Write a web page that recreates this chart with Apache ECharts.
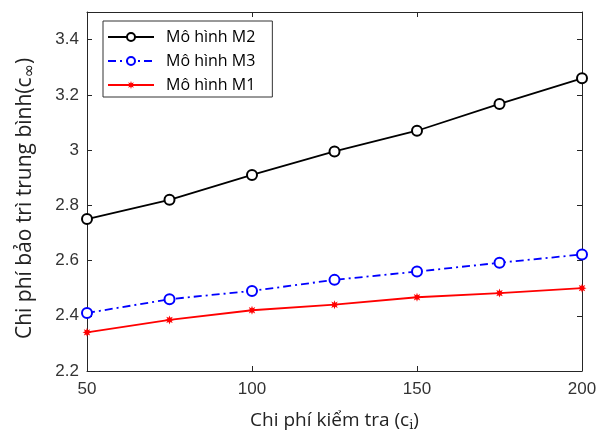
<!DOCTYPE html>
<html>
<head>
<meta charset="utf-8">
<script src="https://cdn.jsdelivr.net/npm/echarts@6/dist/echarts.min.js"></script>
<style>
  html, body { margin: 0; padding: 0; background: #fff; }
  #chart { width: 611px; height: 437px; }
</style>
</head>
<body>
<div id="chart"></div>
<script>
const xValues = [50, 75, 100, 125, 150, 175, 200]
const m2Values = [2.75, 2.82, 2.91, 2.995, 3.07, 3.167, 3.26]
const m3Values = [2.41, 2.46, 2.49, 2.53, 2.56, 2.592, 2.622]
const m1Values = [2.34, 2.385, 2.42, 2.44, 2.467, 2.482, 2.5]
const seriesNames = ['Mô hình M2', 'Mô hình M3', 'Mô hình M1']

const pairs = (vals) => xValues.map((x, i) => [x, vals[i]])

// dấu sao cho M1
const starPath = 'path://M20,10 L14.6,11.9 L17.1,17.1 L11.9,14.6 L10,20 L8.1,14.6 L2.9,17.1 L5.4,11.9 L0,10 L5.4,8.1 L2.9,2.9 L8.1,5.4 L10,0 L11.9,5.4 L17.1,2.9 L14.6,8.1 Z'

const chart = echarts.init(document.getElementById('chart'))
const axisColor = '#262626'
const tickFont = 'Liberation Sans, Arial, sans-serif'
const titleFont = 'Open Sans, sans-serif'

const option = {
  animation: false,
  grid: { left: 87, right: 29, top: 12, bottom: 64 },
  legend: {
    orient: 'vertical',
    left: 103,
    top: 21,
    padding: [8, 17, 4, 4],
    itemGap: 8,
    itemWidth: 46,
    itemHeight: 10,
    borderColor: '#333',
    borderWidth: 1,
    backgroundColor: '#fff',
    textStyle: { fontSize: 16, color: '#000', fontFamily: titleFont, padding: [0, 0, 0, 7] },
    data: seriesNames,
  },
  xAxis: [
    {
      type: 'value',
      min: 50,
      max: 200,
      interval: 50,
      name: '{s|Chi phí kiểm tra (c}{sub|i}{s|)}',
      nameLocation: 'middle',
      nameGap: 38,
      nameTextStyle: {
        rich: {
          s: { fontSize: 19, color: '#222', fontFamily: titleFont },
          sub: { fontSize: 13, color: '#222', fontFamily: 'DejaVu Serif, serif', padding: [10, 0, 0, 0] },
        },
      },
      axisLine: { lineStyle: { color: axisColor } },
      axisTick: { inside: true, length: 5, lineStyle: { color: axisColor } },
      axisLabel: { fontSize: 17, color: '#333', margin: 10, fontFamily: tickFont },
      splitLine: { show: false },
    },
    {
      type: 'value',
      position: 'top',
      min: 50,
      max: 200,
      interval: 50,
      axisLine: { show: true, lineStyle: { color: axisColor } },
      axisTick: { inside: true, length: 5, lineStyle: { color: axisColor } },
      axisLabel: { show: false },
      splitLine: { show: false },
    },
  ],
  yAxis: [
    {
      type: 'value',
      min: 2.2,
      max: 3.5,
      interval: 0.2,
      name: '{s|Chi phí bảo trì trung bình(c}{sub|∞}{s|)}',
      nameLocation: 'middle',
      nameGap: 49,
      nameTextStyle: {
        padding: [0, 14, 0, 0],
        rich: {
          s: { fontSize: 21, color: '#222', fontFamily: titleFont },
          sub: { fontSize: 16, color: '#222', fontFamily: 'DejaVu Sans, sans-serif', padding: [9, 0, 0, 0] },
        },
      },
      axisLine: { show: true, lineStyle: { color: axisColor } },
      axisTick: { show: true, inside: true, length: 5, lineStyle: { color: axisColor } },
      axisLabel: {
        fontSize: 17,
        color: '#333',
        margin: 8,
        fontFamily: tickFont,
        formatter: (v) => (Math.abs(v - 3.5) < 1e-6 ? '' : String(+v.toFixed(1))),
      },
      splitLine: { show: false },
    },
    {
      type: 'value',
      position: 'right',
      min: 2.2,
      max: 3.5,
      interval: 0.2,
      axisLine: { show: true, lineStyle: { color: axisColor } },
      axisTick: { show: true, inside: true, length: 5, lineStyle: { color: axisColor } },
      axisLabel: { show: false },
      splitLine: { show: false },
    },
  ],
  series: [
    {
      name: seriesNames[0],
      type: 'line',
      data: pairs(m2Values),
      symbol: 'emptyCircle',
      symbolSize: 10,
      color: '#000',
      lineStyle: { color: '#000', width: 1.8 },
      itemStyle: { color: '#000', borderWidth: 1.6 },
    },
    {
      name: seriesNames[1],
      type: 'line',
      data: pairs(m3Values),
      symbol: 'emptyCircle',
      symbolSize: 10,
      color: '#0000ff',
      lineStyle: { color: '#0000ff', width: 1.8, type: [8, 4, 2, 4] },
      itemStyle: { color: '#0000ff', borderWidth: 1.6 },
    },
    {
      name: seriesNames[2],
      type: 'line',
      data: pairs(m1Values),
      symbol: starPath,
      symbolSize: 9,
      color: '#ff0000',
      lineStyle: { color: '#ff0000', width: 1.8 },
      itemStyle: { color: '#ff0000' },
    },
  ],
}

chart.setOption(option)
</script>
</body>
</html>
